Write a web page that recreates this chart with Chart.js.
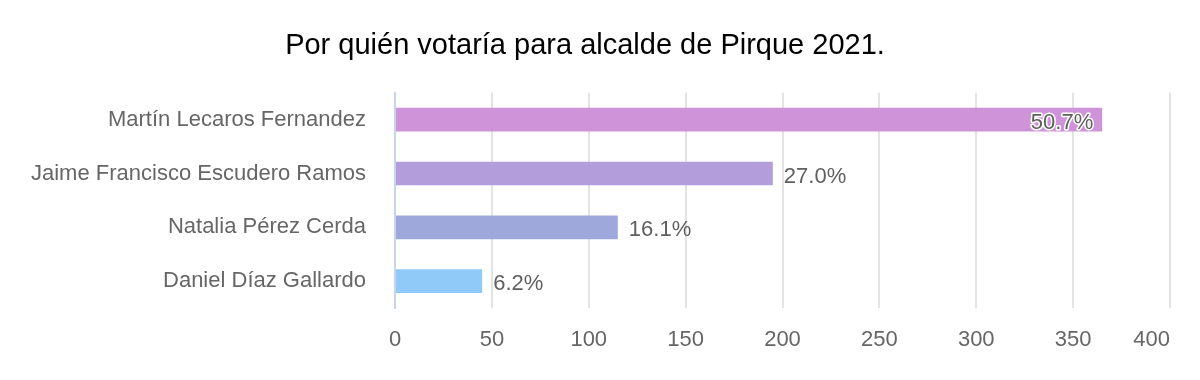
<!DOCTYPE html>
<html>
<head>
<meta charset="utf-8">
<script src="https://cdn.jsdelivr.net/npm/chart.js@4.4.1/dist/chart.umd.min.js"></script>
<style>
  html, body { margin: 0; padding: 0; background: #fff; }
  #wrap { width: 1200px; height: 380px; }
</style>
</head>
<body>
<div id="wrap"><canvas id="grafico"></canvas></div>
<script>
// datos
const candidatos = ['Martín Lecaros Fernandez', 'Jaime Francisco Escudero Ramos', 'Natalia Pérez Cerda', 'Daniel Díaz Gallardo'];
const votos = [365, 195, 115, 45];
const porcentajes = ['50.7%', '27.0%', '16.1%', '6.2%'];
const colores = ['#CE93D8', '#B39DDB', '#9FA8DA', '#90CAF9'];
const ticksX = [0, 50, 100, 150, 200, 250, 300, 350, 400];

const fuente = "'Liberation Sans', Arial, sans-serif";

// etiquetas de porcentaje al final de cada barra
const etiquetasBarras = {
    id: 'etiquetasBarras',
    afterDatasetsDraw(chart) {
        const ctx = chart.ctx;
        const meta = chart.getDatasetMeta(0);
        ctx.save();
        ctx.font = '22px ' + fuente;
        ctx.textBaseline = 'middle';
        meta.data.forEach((barra, i) => {
            const texto = porcentajes[i];
            const ancho = ctx.measureText(texto).width;
            let x = barra.x + 11;
            let dentro = false;
            if (x + ancho > chart.chartArea.right - 10) {
                x = barra.x - ancho - 9;
                dentro = true;
            }
            if (dentro) {
                ctx.lineWidth = 3;
                ctx.strokeStyle = '#ffffff';
                ctx.lineJoin = 'round';
                ctx.strokeText(texto, x, barra.y + 3);
            }
            ctx.fillStyle = '#5f5f5f';
            ctx.fillText(texto, x, barra.y + 3);
        });

        // la ultima marca del eje x va alineada a la derecha, como en el original
        const escalaX = chart.scales.x;
        const ultimo = ticksX[ticksX.length - 1];
        ctx.font = '22px ' + fuente;
        ctx.fillStyle = '#666666';
        ctx.textAlign = 'right';
        ctx.textBaseline = 'middle';
        ctx.fillText(String(ultimo), escalaX.getPixelForValue(ultimo), 340);
        ctx.restore();
    }
};

const ctx = document.getElementById('grafico').getContext('2d');
const grafico = new Chart(ctx, {
    type: 'bar',
    data: {
        labels: candidatos,
        datasets: [{
            data: votos,
            backgroundColor: colores,
            borderWidth: 0,
            barPercentage: 0.44,
            categoryPercentage: 1
        }]
    },
    options: {
        indexAxis: 'y',
        responsive: true,
        maintainAspectRatio: false,
        animation: false,
        layout: { padding: { left: 0, right: 30, top: 0, bottom: 0 } },
        plugins: {
            legend: { display: false },
            tooltip: { enabled: false },
            title: {
                display: true,
                text: 'Por quién votaría para alcalde de Pirque 2021.',
                color: '#000000',
                font: { family: fuente, size: 29, weight: 'normal' },
                padding: { top: 29, bottom: 29 }
            }
        },
        scales: {
            x: {
                min: 0,
                max: 400,
                afterBuildTicks(scale) {
                    scale.ticks = ticksX.map(v => ({ value: v }));
                },
                afterFit(scale) { scale.height = 72; },
                grid: { color: '#e3e3e3', lineWidth: 2, drawTicks: false },
                border: { display: false },
                ticks: {
                    color: '#666666',
                    padding: 19,
                    font: { family: fuente, size: 22 },
                    callback: (v) => (v === ticksX[ticksX.length - 1] ? '' : v)
                }
            },
            y: {
                afterFit(scale) { scale.width = 395; },
                grid: { display: false, drawTicks: false },
                border: { color: '#c8d4ef', width: 2 },
                ticks: {
                    color: '#666666',
                    padding: 29,
                    font: { family: fuente, size: 22 }
                }
            }
        }
    },
    plugins: [etiquetasBarras]
});
</script>
</body>
</html>
